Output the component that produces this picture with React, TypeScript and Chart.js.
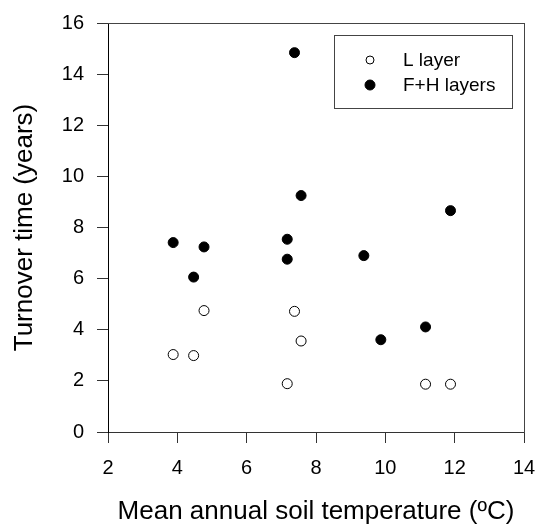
import React, { useEffect, useRef } from 'react';
import { Chart, registerables } from 'chart.js';

Chart.register(...registerables);

// Mean annual soil temperature (ºC) and turnover time (years)
const lLayerTemp = [3.88, 4.47, 4.77, 7.17, 7.38, 7.57, 11.16, 11.88];
const lLayerTurnover = [3.03, 2.99, 4.75, 1.89, 4.72, 3.56, 1.87, 1.87];
const fhLayerTemp = [3.88, 4.47, 4.77, 7.17, 7.17, 7.38, 7.57, 9.38, 9.87, 11.16, 11.88];
const fhLayerTurnover = [7.41, 6.06, 7.24, 7.54, 6.76, 14.84, 9.25, 6.9, 3.61, 4.11, 8.66];

const seriesLabels = ['L layer', 'F+H layers'];
const xTitle = 'Mean annual soil temperature (ºC)';
const yTitle = 'Turnover time (years)';

const FONT = 'Arial, "Liberation Sans", sans-serif';

const legendPlugin = {
  id: 'boxLegend',
  afterDraw(chart: any) {
    const ctx = chart.ctx;
    const ds = chart.data.datasets;
    ctx.save();
    ctx.strokeStyle = '#444';
    ctx.lineWidth = 1;
    ctx.strokeRect(334.5, 35.5, 178, 73);
    ds.forEach((d: any, i: number) => {
      const cy = 60 + i * 25;
      ctx.beginPath();
      ctx.arc(370, cy, i === 0 ? 4 : 5, 0, Math.PI * 2);
      ctx.fillStyle = d.backgroundColor;
      ctx.fill();
      ctx.strokeStyle = d.borderColor;
      ctx.lineWidth = 1;
      ctx.stroke();
      ctx.fillStyle = '#000';
      ctx.font = `19px ${FONT}`;
      ctx.textBaseline = 'middle';
      ctx.textAlign = 'left';
      ctx.fillText(d.label, 403, cy + 1);
    });
    ctx.restore();
  },
};

export default function App() {
  const ref = useRef<HTMLCanvasElement>(null);
  useEffect(() => {
    if (!ref.current) return;
    const chart = new Chart(ref.current, {
      type: 'scatter',
      data: {
        datasets: [
          {
            label: seriesLabels[0],
            data: lLayerTemp.map((x, i) => ({ x, y: lLayerTurnover[i] })),
            backgroundColor: '#fff',
            borderColor: '#000',
            borderWidth: 1,
            pointRadius: 5,
            pointHoverRadius: 5,
          },
          {
            label: seriesLabels[1],
            data: fhLayerTemp.map((x, i) => ({ x, y: fhLayerTurnover[i] })),
            backgroundColor: '#000',
            borderColor: '#000',
            borderWidth: 1,
            pointRadius: 5,
            pointHoverRadius: 5,
          },
        ],
      },
      options: {
        responsive: false,
        animation: false,
        layout: { padding: { top: 23, right: 14, left: 0, bottom: 0 } },
        plugins: { legend: { display: false }, tooltip: { enabled: false } },
        scales: {
          x: {
            type: 'linear',
            position: 'bottom',
            min: 2,
            max: 14,
            ticks: { stepSize: 2, color: '#000', font: { family: FONT, size: 20 }, padding: 13 },
            grid: { drawOnChartArea: false, tickLength: 11, color: '#333' },
            border: { color: '#333', width: 1 },
            title: {
              display: true,
              text: xTitle,
              color: '#000',
              font: { family: FONT, size: 26 },
              padding: { top: 0, bottom: 0 },
            },
            afterFit: (s: any) => {
              s.height = 95;
              s.paddingLeft = 0;
              s.paddingRight = 0;
            },
          },
          y: {
            type: 'linear',
            position: 'left',
            min: 0,
            max: 16,
            ticks: { stepSize: 2, color: '#000', font: { family: FONT, size: 20 }, padding: 13 },
            grid: { drawOnChartArea: false, tickLength: 11, color: '#333' },
            border: { color: '#000', width: 1 },
            title: {
              display: true,
              text: yTitle,
              color: '#000',
              font: { family: FONT, size: 26 },
              padding: { top: 9, bottom: 0 },
            },
            afterFit: (s: any) => {
              s.width = 108;
              s.paddingTop = 0;
              s.paddingBottom = 0;
            },
          },
          x2: {
            type: 'linear',
            position: 'top',
            min: 2,
            max: 14,
            ticks: { display: false },
            grid: { display: false },
            border: { color: '#444', width: 1 },
            afterFit: (s: any) => {
              s.height = 0;
              s.paddingLeft = 0;
              s.paddingRight = 0;
            },
          },
          y2: {
            type: 'linear',
            position: 'right',
            min: 0,
            max: 16,
            ticks: { display: false },
            grid: { display: false },
            border: { color: '#444', width: 1 },
            afterFit: (s: any) => {
              s.width = 0;
              s.paddingTop = 0;
              s.paddingBottom = 0;
            },
          },
        },
      },
      plugins: [legendPlugin],
    });
    return () => chart.destroy();
  }, []);
  return (
    <div style={{ position: 'fixed', left: 0, top: 0, width: 538, height: 527, background: '#fff' }}>
      <canvas ref={ref} width={538} height={527} style={{ display: 'block' }} />
    </div>
  );
}
